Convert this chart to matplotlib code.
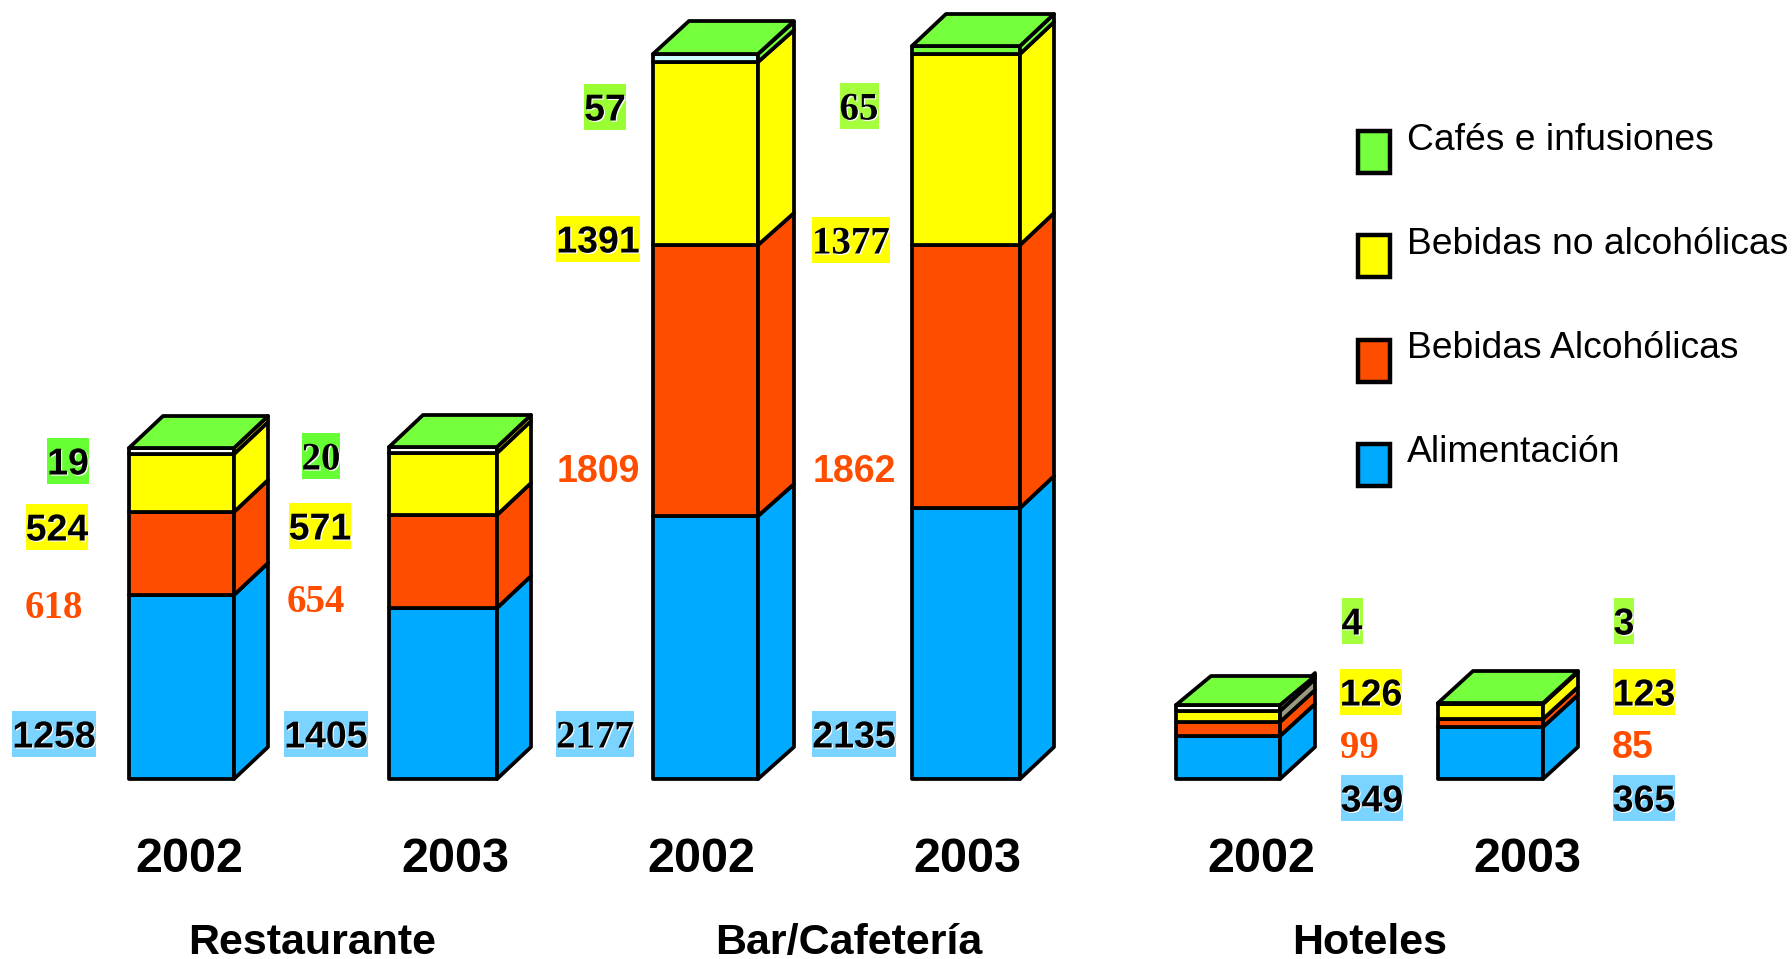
#!/usr/bin/env python3
import matplotlib
matplotlib.use("Agg")
import matplotlib.patheffects as pe
import matplotlib.pyplot as plt
from matplotlib.patches import Polygon, Rectangle

# drawn segment heights (they do not follow the printed figures)
alimentacion = [184, 171, 263, 271, 43, 52]
alcoholicas = [83, 93, 271, 263, 14, 8]
no_alcoholicas = [58, 62, 183, 191, 11, 15]
cafes = [6, 6, 8, 8, 6, 1]

years = ["2002", "2003", "2002", "2003", "2002", "2003"]
groups = ["Restaurante", "Bar/Cafetería", "Hoteles"]
legend_names = ["Cafés e infusiones", "Bebidas no alcohólicas", "Bebidas Alcohólicas", "Alimentación"]

cafes_labels = ["19", "20", "57", "65", "4", "3"]
no_alc_labels = ["524", "571", "1391", "1377", "126", "123"]
alc_labels = ["618", "654", "1809", "1862", "99", "85"]
alim_labels = ["1258", "1405", "2177", "2135", "349", "365"]

# layout, in image pixels
BASE = 779
lefts = [129, 389, 653, 912, 1176, 1438]
widths = [105, 108, 105, 108, 104, 105]
depth_x = [34, 34, 36, 34, 35, 35]
DY = 32
top_dy = [32, 32, 33, 32, 29, 32]
year_x = [189, 455, 701, 967, 1261, 1527]
group_x = [312, 849, 1370]
legend_y = [152, 256, 361, 465]
legend_text_y = [141, 245, 349, 453]

cafes_pos = [(68, 461), (321, 456), (605, 107), (859, 106), (1352, 621), (1624, 621)]
no_alc_pos = [(57, 527), (320, 526), (598, 239), (851, 240), (1371, 692), (1644, 692)]
alc_pos = [(54, 605), (316, 599), (598, 469), (854, 469), (1359, 745), (1633, 745)]
alim_pos = [(54, 734), (326, 734), (595, 734), (854, 734), (1372, 798), (1644, 798)]

cafes_serif = [False, True, False, True, False, False]
no_alc_serif = [False, False, False, True, False, False]
alc_serif = [True, True, False, False, True, False]
alim_serif = [False, False, True, False, False, False]

GREEN = "#75FF3C"
YELLOW = "#FFFF00"
ORANGE = "#FF4D00"
BLUE = "#00AAFF"
GREY = "#99997F"
strip_front = ["#FFFFFF", "#FFFFFF", "#CCFFFF", GREEN, "#FFFFFF", YELLOW]
strip_side = [YELLOW, YELLOW, GREEN, GREEN, GREY, YELLOW]
yellow_side = [YELLOW, YELLOW, YELLOW, YELLOW, GREY, YELLOW]
cafes_box = ["#66FF33", "#66FF33", "#99FF33", "#A6FF3C", "#A6FF3C", "#A6FF3C"]
alim_box = "#7AD4FF"
LW = 2.7


def y_of(py):
    return BASE - py


fig = plt.figure(figsize=(17.92, 9.59), dpi=100)
ax = fig.add_axes([0, 0, 1, 1])
ax.set_xlim(0, 1792)
ax.set_ylim(BASE - 959, BASE)
ax.axis("off")
renderer = fig.canvas.get_renderer()

edge = dict(edgecolor="black", linewidth=LW, joinstyle="round")

for i, x in enumerate(lefts):
    w = widths[i]
    dx = depth_x[i]
    segs = [
        (alimentacion[i], BLUE, BLUE),
        (alcoholicas[i], ORANGE, ORANGE),
        (no_alcoholicas[i], YELLOW, yellow_side[i]),
        (cafes[i], strip_front[i], strip_side[i]),
    ]
    bottom = 0
    for h, front, side in segs:
        ax.bar(x, h, width=w, bottom=bottom, align="edge", color=front, **edge)
        r = x + w
        ax.add_patch(Polygon([(r, bottom), (r + dx, bottom + DY), (r + dx, bottom + h + DY), (r, bottom + h)],
                             facecolor=side, **edge))
        bottom += h
    ax.add_patch(Polygon([(x, bottom), (x + w, bottom), (x + w + dx, bottom + top_dy[i]), (x + dx, bottom + top_dy[i])],
                         facecolor=GREEN, **edge))


def value_label(text, pos, serif, box=None, color="black"):
    family = "Liberation Serif" if serif else "Liberation Sans"
    size = 28 if serif else 27
    t = ax.text(pos[0], y_of(pos[1]) - 13.5, text, ha="center", va="baseline", family=family,
                fontweight="bold", fontsize=size, color=color, zorder=4)
    if box is not None:
        t.set_path_effects([pe.withSimplePatchShadow(offset=(0.8, -0.8), shadow_rgbFace="white", alpha=1)])
        bb = t.get_window_extent(renderer)
        ax.add_patch(Rectangle((bb.x0, y_of(pos[1]) - 23), bb.width, 46, facecolor=box,
                               edgecolor="none", zorder=3))


for i in range(6):
    value_label(cafes_labels[i], cafes_pos[i], cafes_serif[i], box=cafes_box[i])
    value_label(no_alc_labels[i], no_alc_pos[i], no_alc_serif[i], box=YELLOW)
    value_label(alc_labels[i], alc_pos[i], alc_serif[i], color=ORANGE)
    value_label(alim_labels[i], alim_pos[i], alim_serif[i], box=alim_box)
    ax.text(year_x[i], y_of(859), years[i], ha="center", va="center", family="Liberation Sans",
            fontweight="bold", fontsize=35)

for gx, name in zip(group_x, groups):
    ax.text(gx, y_of(954), name, ha="center", va="baseline", family="Liberation Sans",
            fontweight="bold", fontsize=31)

legend_colors = [GREEN, YELLOW, ORANGE, BLUE]
for ly, ty, name, c in zip(legend_y, legend_text_y, legend_names, legend_colors):
    ax.add_patch(Rectangle((1358, y_of(ly + 21)), 32, 42, facecolor=c, edgecolor="black", linewidth=3.2))
    ax.text(1407, y_of(ty), name, ha="left", va="center", family="Liberation Sans", fontsize=26.8)

fig.savefig("out.png", dpi=100, facecolor="white")
